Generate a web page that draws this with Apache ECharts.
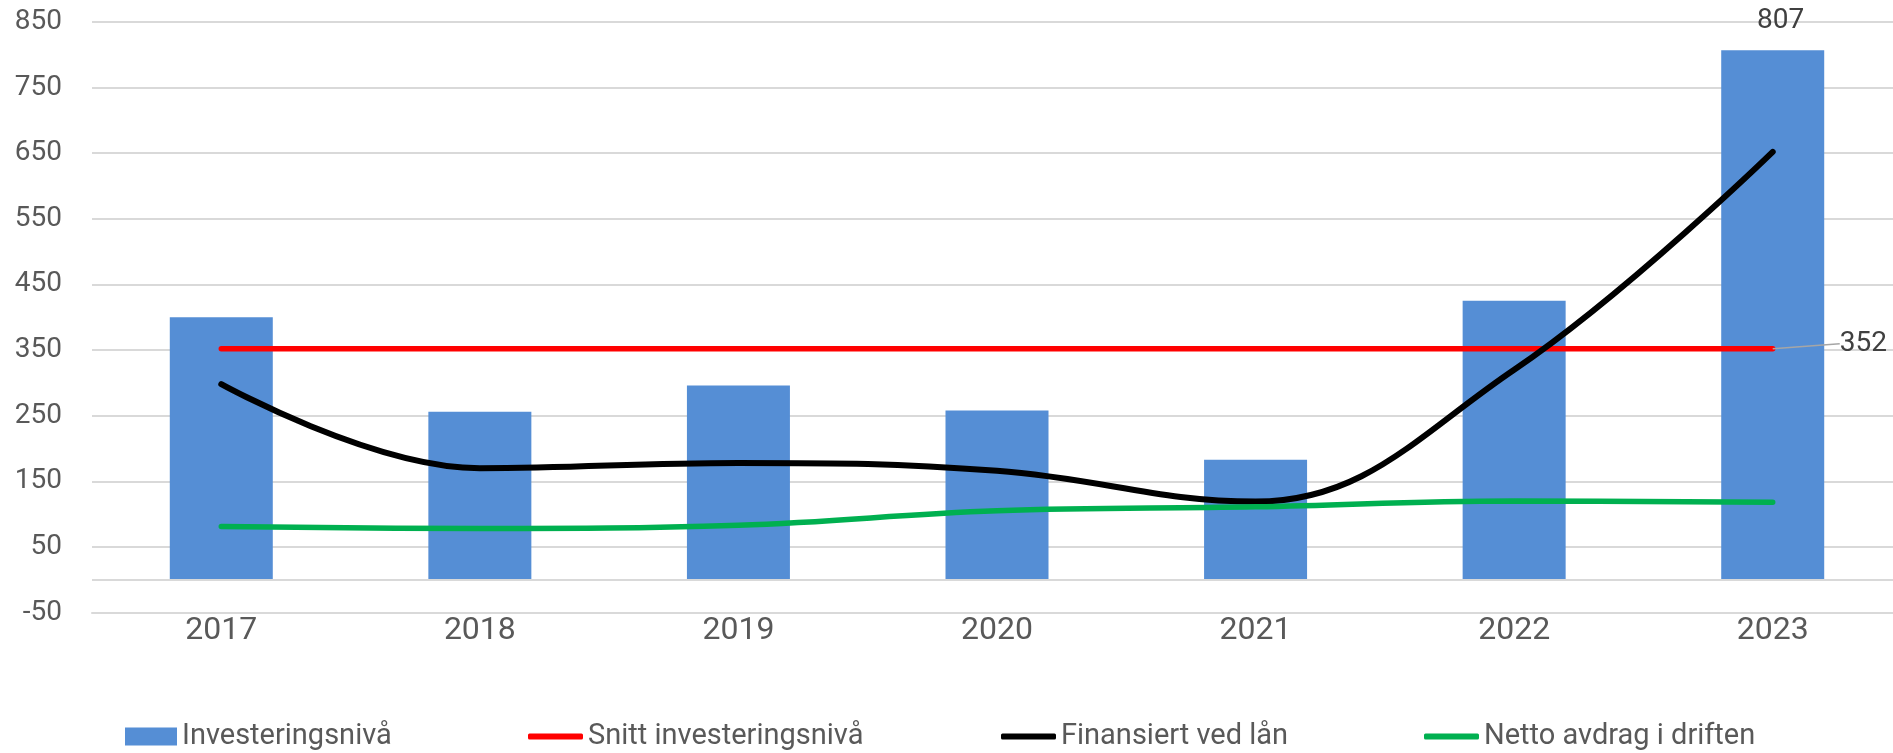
<!DOCTYPE html>
<html>
<head>
<meta charset="utf-8">
<script src="https://cdn.jsdelivr.net/npm/echarts@6/dist/echarts.min.js"></script>
<style>
    html, body { margin: 0; padding: 0; background: #fff; }
    #main { width: 1893px; height: 753px; }
</style>
</head>
<body>
<div id="main"></div>
<script>
// 数据
var years = ['2017', '2018', '2019', '2020', '2021', '2022', '2023'];
var investering = [400, 256, 296, 258, 183, 425, 807];
var snitt = [352, 352, 352, 352, 352, 352, 352];
var finansiert = [298, 170, 178, 166, 119, 320, 652];
var netto = [81, 78, 83, 105, 111, 120, 118];

var font = 'Roboto';
var grey = '#595959';

// 最后一个点显示标签
function lastLabel(arr, label) {
    return arr.map(function (v, i) {
        if (i === arr.length - 1) {
            return { value: v, label: label };
        }
        return v;
    });
}

var myChart = echarts.init(document.getElementById('main'));

function oneLegend(name, left, icon, w, h) {
    return {
        data: [{ name: name, icon: icon }],
        left: left,
        top: 722,
        padding: 0,
        itemWidth: w,
        itemHeight: h,
        selectedMode: false,
        textStyle: { fontFamily: font, fontSize: 29, color: grey }
    };
}

var option = {
    animation: false,
    textStyle: { fontFamily: font },
    grid: { left: 92, top: 22, width: 1810, height: 590.5, outerBoundsMode: 'none' },
    legend: [
        oneLegend('Investeringsnivå', 125, 'rect', 52, 18),
        oneLegend('Snitt investeringsnivå', 528, 'roundRect', 55, 6),
        oneLegend('Finansiert ved lån', 1001, 'roundRect', 55, 6),
        oneLegend('Netto avdrag i driften', 1424, 'roundRect', 55, 6)
    ],
    xAxis: {
        type: 'category',
        data: years,
        axisTick: { show: false },
        axisLine: { onZero: false, lineStyle: { color: '#d9d9d9', width: 2 } },
        axisLabel: { fontFamily: font, fontSize: 32, color: grey, margin: 2 }
    },
    yAxis: {
        type: 'value',
        min: -50,
        max: 850,
        interval: 100,
        axisLine: { show: false },
        axisTick: { show: false },
        axisLabel: { fontFamily: font, fontSize: 28, color: grey, margin: 30 },
        splitLine: { lineStyle: { color: '#d9d9d9', width: 2 } }
    },
    series: [
        {
            name: 'Investeringsnivå',
            type: 'bar',
            barWidth: 103,
            itemStyle: { color: '#558ED5' },
            data: lastLabel(investering, {
                show: true,
                position: 'top',
                distance: 15,
                offset: [8, 0],
                fontFamily: font,
                fontSize: 28,
                color: '#404040'
            }),
            markLine: {
                silent: true,
                symbol: 'none',
                label: { show: false },
                lineStyle: { color: '#d9d9d9', width: 2, type: 'solid' },
                data: [{ yAxis: 0 }]
            }
        },
        {
            name: 'Snitt investeringsnivå',
            type: 'line',
            symbol: 'circle',
            symbolSize: 0.1,
            itemStyle: { color: '#FF0000' },
            lineStyle: { color: '#FF0000', width: 5.5, cap: 'round' },
            data: lastLabel(snitt, {
                show: true,
                position: 'right',
                distance: 5,
                fontFamily: font,
                fontSize: 28,
                color: '#404040'
            }),
            labelLayout: { dx: 62, dy: -5 },
            labelLine: { show: true, lineStyle: { color: '#a6a6a6', width: 1.5 } }
        },
        {
            name: 'Finansiert ved lån',
            type: 'line',
            smooth: 0.4,
            showSymbol: false,
            itemStyle: { color: '#000000' },
            lineStyle: { color: '#000000', width: 6, cap: 'round' },
            data: finansiert
        },
        {
            name: 'Netto avdrag i driften',
            type: 'line',
            smooth: 0.4,
            showSymbol: false,
            itemStyle: { color: '#00B050' },
            lineStyle: { color: '#00B050', width: 5.5, cap: 'round' },
            data: netto
        }
    ]
};

myChart.setOption(option);
</script>
</body>
</html>
